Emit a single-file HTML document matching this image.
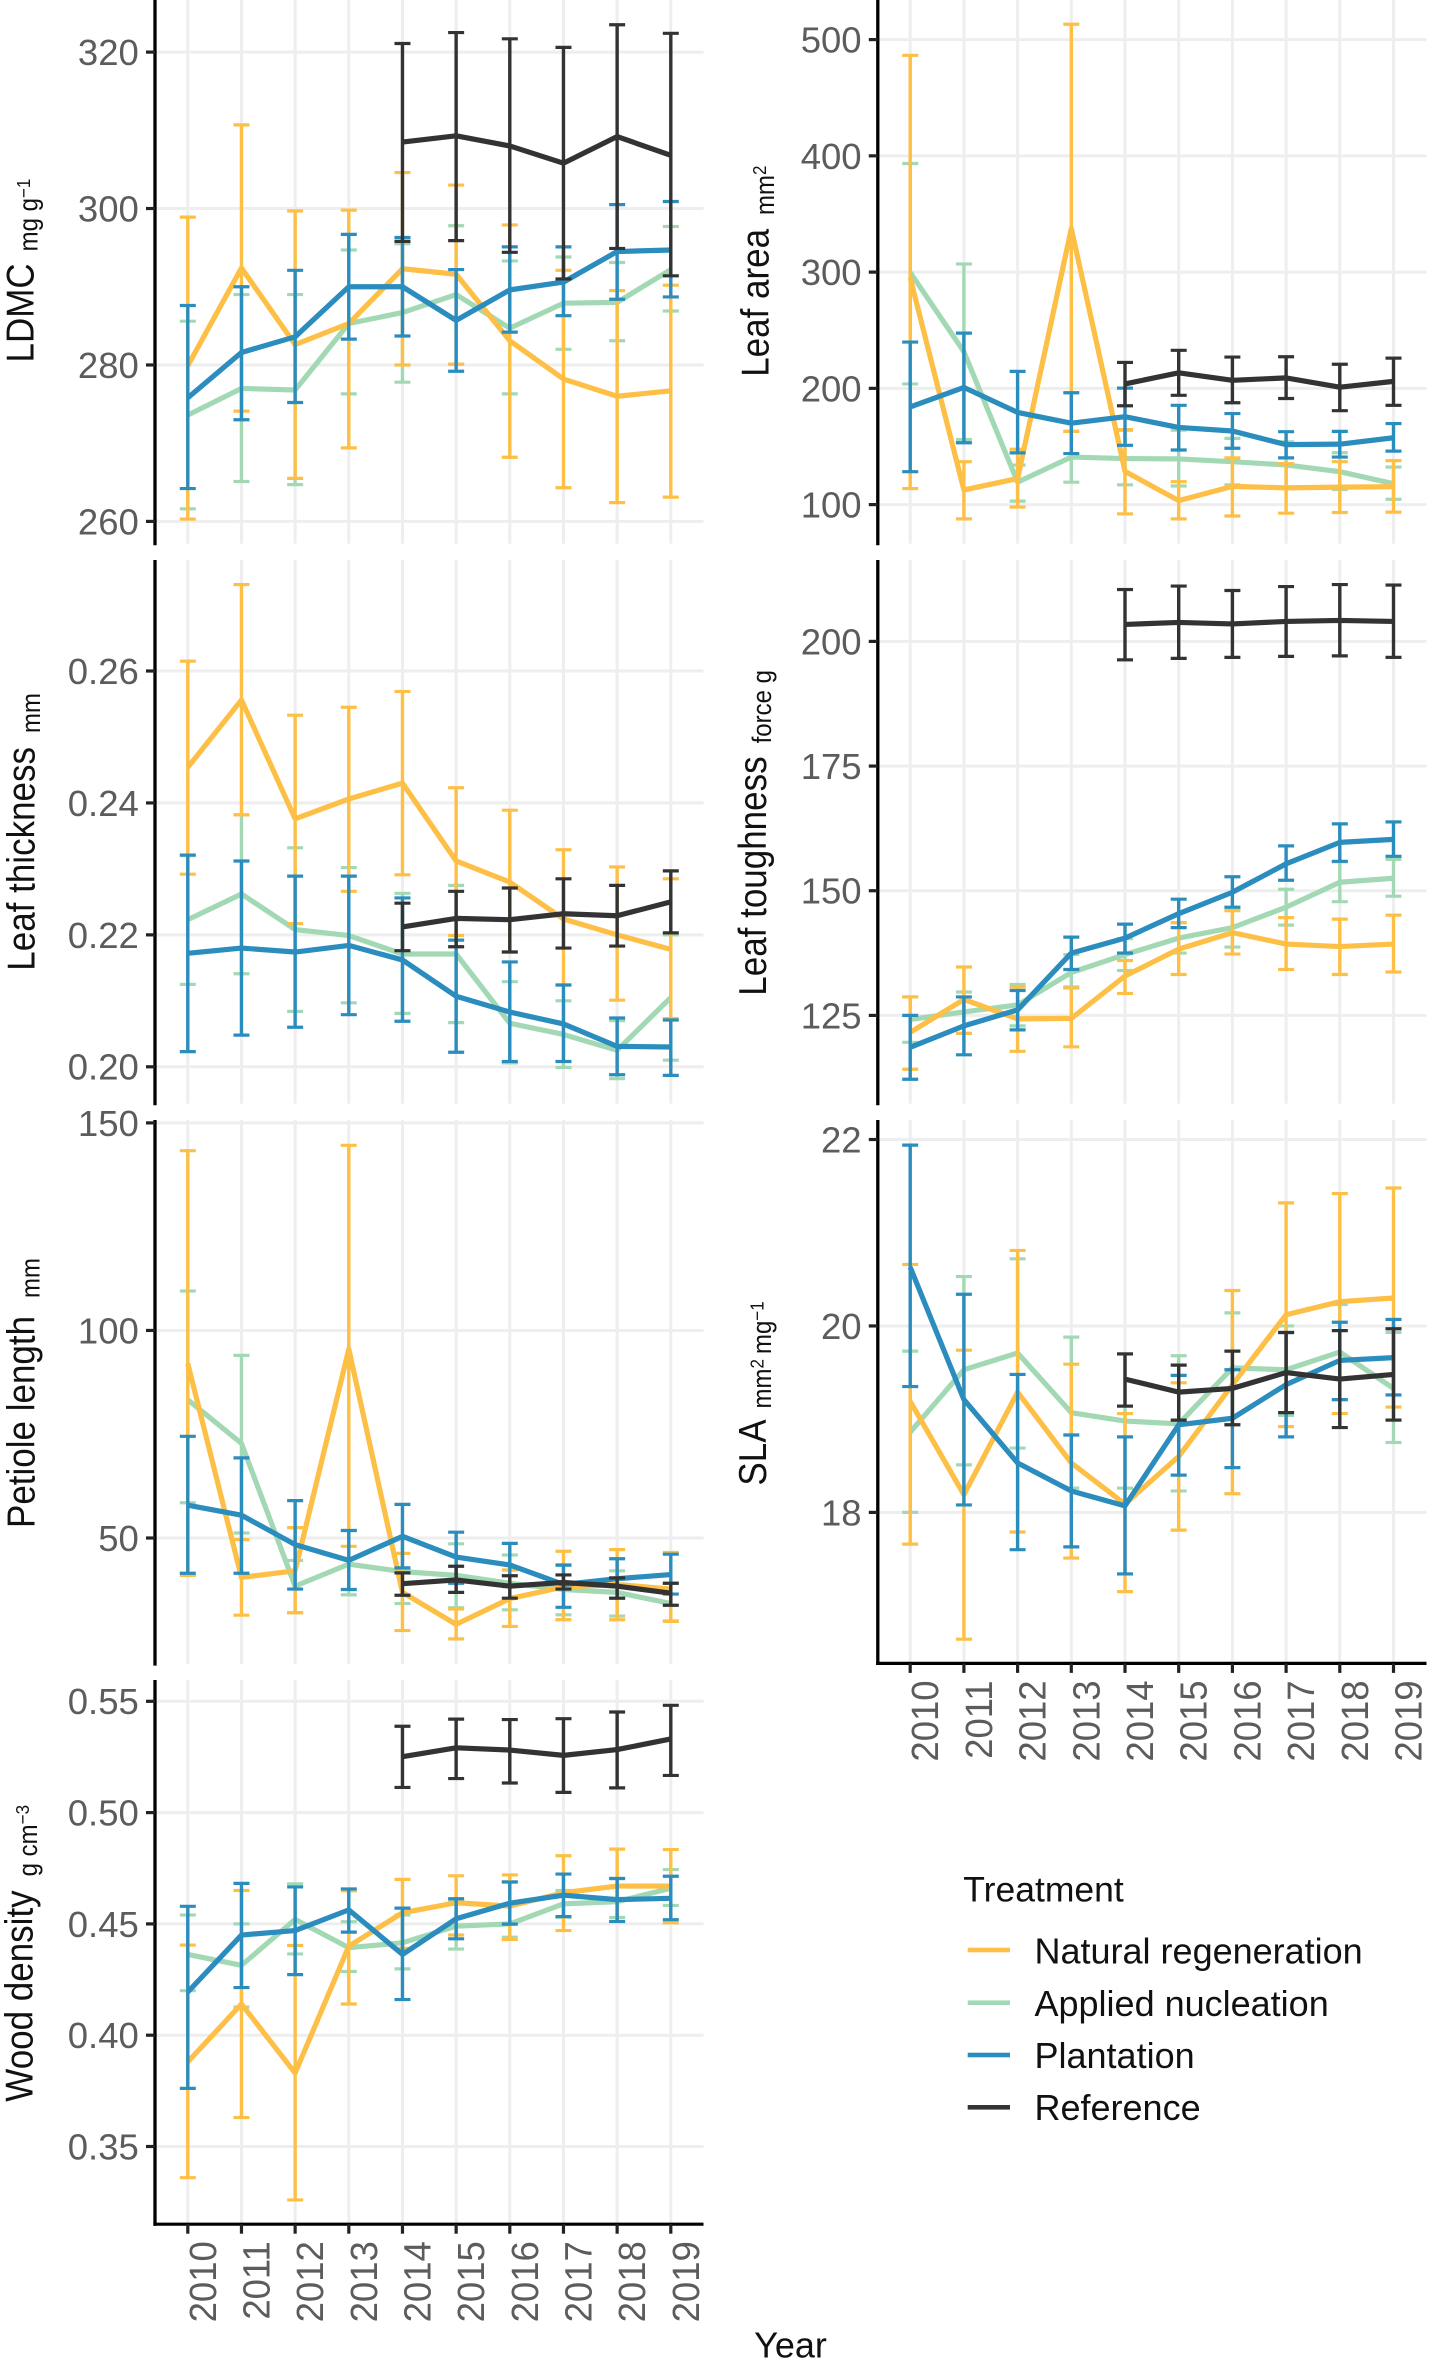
<!DOCTYPE html>
<html lang="en">
<head>
<meta charset="utf-8">
<title>Leaf and wood traits by treatment, 2010-2019</title>
<style>
html,body{margin:0;padding:0;background:#fff}
svg{display:block;font-family:"Liberation Sans",Arial,sans-serif}
</style>
</head>
<body>
<svg id="chart" xmlns="http://www.w3.org/2000/svg" width="1437" height="2376" viewBox="0 0 1437 2376">
<rect width="1437" height="2376" fill="#ffffff"/>
<g id="panels"></g>
<g fill="#111111" font-size="35">
<text transform="translate(33.3,362.5) rotate(-90) scale(1,1.1)">LDMC<tspan font-size="24" dx="12" dy="4">mg g</tspan><tspan font-size="17" dy="-7">−1</tspan></text>
<text transform="translate(768.3,376.8) rotate(-90) scale(1,1.1)">Leaf area<tspan font-size="24" dx="14" dy="5">mm</tspan><tspan font-size="17" dy="-7">2</tspan></text>
<text transform="translate(34.6,970.7) rotate(-90) scale(1,1.1)">Leaf thickness<tspan font-size="24" dx="14" dy="5">mm</tspan></text>
<text transform="translate(766,995.7) rotate(-90) scale(1,1.1)">Leaf toughness<tspan font-size="24" dx="13" dy="4.5">force g</tspan></text>
<text transform="translate(34.6,1528) rotate(-90) scale(1,1.1)">Petiole length<tspan font-size="24" dx="18" dy="4.5">mm</tspan></text>
<text transform="translate(766,1485.6) rotate(-90) scale(1,1.1)">SLA<tspan font-size="24" dx="11" dy="4.5">mm</tspan><tspan font-size="17" dy="-7">2</tspan><tspan font-size="24" dx="5" dy="7">mg</tspan><tspan font-size="17" dy="-7">−1</tspan></text>
<text transform="translate(32.4,2101.7) rotate(-90) scale(1,1.1)">Wood density<tspan font-size="24" dx="14" dy="4">g cm</tspan><tspan font-size="17" dy="-7">−3</tspan></text>
</g>
<text x="790.5" y="2357.3" font-size="36" fill="#111111" text-anchor="middle">Year</text>
<g fill="#111111" font-size="36">
<text x="963.3" y="1901.7" font-size="35.5">Treatment</text>
<g>
<rect x="967.7" y="1947.7" width="42.3" height="4.6" fill="#FDBF45"/>
<text x="1034.5" y="1963.3">Natural regeneration</text>
</g>
<g>
<rect x="967.7" y="2000.4" width="42.3" height="4.6" fill="#A2D9B4"/>
<text x="1034.5" y="2016">Applied nucleation</text>
</g>
<g>
<rect x="967.7" y="2052.7" width="42.3" height="4.6" fill="#2B8CBE"/>
<text x="1034.5" y="2068">Plantation</text>
</g>
<g>
<rect x="967.7" y="2105" width="42.3" height="4.6" fill="#333333"/>
<text x="1034.5" y="2120">Reference</text>
</g>
</g>
</svg>
<script>
const years = [2010,2011,2012,2013,2014,2015,2016,2017,2018,2019];
const referenceYears = [2014,2015,2016,2017,2018,2019];

// LDMC
const ldmcTicks = [320,300,280,260];
const ldmcTickLabels = ['320','300','280','260'];
const ldmcNaturalMean = [279.9,292.4,282.6,285.3,292.3,291.6,283.1,278.2,276.0,276.7];
const ldmcNaturalUpper = [298.9,310.7,299.7,299.8,304.6,303.0,297.9,292.1,289.5,290.2];
const ldmcNaturalLower = [260.3,274.1,265.5,269.4,280.0,280.1,268.2,264.3,262.4,263.1];
const ldmcAppliedMean = [273.6,277.0,276.8,285.3,286.7,289.0,284.7,287.9,288.0,292.2];
const ldmcAppliedUpper = [285.6,289.0,289.0,294.7,295.5,297.8,293.3,293.8,293.1,297.7];
const ldmcAppliedLower = [261.6,265.1,264.7,276.3,277.8,280.1,276.3,282.0,283.1,286.9];
const ldmcPlantationMean = [275.8,281.6,283.6,290.0,290.0,285.7,289.6,290.6,294.5,294.7];
const ldmcPlantationUpper = [287.6,290.0,292.1,296.7,296.3,292.2,295.1,295.1,300.5,300.9];
const ldmcPlantationLower = [264.2,273.0,275.2,283.3,283.7,279.2,284.2,286.3,288.4,288.7];
const ldmcReferenceMean = [308.5,309.3,308.0,305.8,309.2,306.8];
const ldmcReferenceUpper = [321.1,322.5,321.7,320.6,323.5,322.4];
const ldmcReferenceLower = [295.8,295.9,294.4,291.0,294.9,291.4];

// Leaf area
const areaTicks = [500,400,300,200,100];
const areaTickLabels = ['500','400','300','200','100'];
const areaNaturalMean = [295,112.6,122.4,337.5,128.6,103.4,115.7,114.4,115,115.4];
const areaNaturalUpper = [486.5,136.9,147.6,513.2,164.5,119.7,140.2,135.3,136.9,137.8];
const areaNaturalLower = [113.8,87.7,97.9,163,92,87.7,90.2,92.6,93.2,93.5];
const areaAppliedMean = [299.7,231.5,119.3,140.9,139.6,139.3,136.9,134.1,128.3,118];
const areaAppliedUpper = [393.4,307,134,163,164,164,157,154,144.6,132.3];
const areaAppliedLower = [203.8,156,103,119.3,117,116,117,114,113,104.6];
const areaPlantationMean = [184,200.8,179.3,170,175.6,166.4,163.3,151.6,152,157.5];
const areaPlantationUpper = [239.8,247.5,214.6,196.2,200.2,185.4,178.3,162.7,163,169.7];
const areaPlantationLower = [128.3,153.2,144.5,143.9,151,147,148.5,140.2,140.9,146];
const areaReferenceMean = [203.8,213.4,206.9,209,201,206];
const areaReferenceUpper = [222.3,232.7,226.9,227.2,220.7,226];
const areaReferenceLower = [185,194,187.6,191.3,180.8,185.4];

// Leaf thickness
const thickTicks = [0.26,0.24,0.22,0.20];
const thickTickLabels = ['0.26','0.24','0.22','0.20'];
const thickNaturalMean = [0.2454,0.2556,0.2376,0.2406,0.2430,0.2312,0.2280,0.2224,0.2200,0.2178];
const thickNaturalUpper = [0.2615,0.2731,0.2533,0.2545,0.2569,0.2423,0.2389,0.2329,0.2303,0.2285];
const thickNaturalLower = [0.2292,0.2382,0.2217,0.2266,0.2291,0.2199,0.2174,0.2124,0.2101,0.2073];
const thickAppliedMean = [0.2223,0.2262,0.2208,0.2199,0.2171,0.2171,0.2066,0.2049,0.2025,0.2105];
const thickAppliedUpper = [0.2320,0.2382,0.2332,0.2302,0.2263,0.2275,0.2129,0.2100,0.2070,0.2200];
const thickAppliedLower = [0.2125,0.2141,0.2084,0.2097,0.2081,0.2067,0.2006,0.1999,0.1982,0.2010];
const thickPlantationMean = [0.2172,0.2180,0.2174,0.2184,0.2162,0.2107,0.2083,0.2065,0.2031,0.2030];
const thickPlantationUpper = [0.2321,0.2312,0.2289,0.2289,0.2256,0.2192,0.2159,0.2124,0.2074,0.2071];
const thickPlantationLower = [0.2023,0.2048,0.2060,0.2079,0.2069,0.2022,0.2008,0.2008,0.1988,0.1987];
const thickReferenceMean = [0.2212,0.2225,0.2223,0.2232,0.2229,0.2250];
const thickReferenceUpper = [0.2248,0.2266,0.2271,0.2285,0.2275,0.2297];
const thickReferenceLower = [0.2176,0.2182,0.2174,0.2180,0.2183,0.2203];

// Leaf toughness
const toughTicks = [200,175,150,125];
const toughTickLabels = ['200','175','150','125'];
const toughNaturalMean = [121.6,128.2,124.3,124.4,132.9,138.3,141.6,139.3,138.8,139.3];
const toughNaturalUpper = [128.7,134.7,130.7,130.5,136,143.6,146,144.6,144.3,145.1];
const toughNaturalLower = [114.2,121.4,117.8,118.7,129.4,133.2,137.3,134.2,133.2,133.7];
const toughAppliedMean = [124.2,125.7,127.1,133.6,137.2,140.5,142.6,146.7,151.7,152.5];
const toughAppliedUpper = [128.7,129.7,131.2,137.2,140.4,143.6,146.5,150.3,155.8,156.3];
const toughAppliedLower = [119.6,121.4,122.9,130.7,134,137.5,138.7,143.1,147.8,148.9];
const toughPlantationMean = [118.6,122.9,126.1,137.5,140.5,145.4,149.7,155.4,159.7,160.3];
const toughPlantationUpper = [125,128.7,130,140.7,143.3,148.3,152.8,159,163.4,163.8];
const toughPlantationLower = [112.2,117.1,122.1,134.2,137.5,142.6,146.7,152.1,155.9,156.9];
const toughReferenceMean = [203.4,203.8,203.5,204,204.2,204];
const toughReferenceUpper = [210.4,211.1,210.2,211,211.4,211.3];
const toughReferenceLower = [196.3,196.6,196.8,197,197.1,196.8];

// Petiole length
const petioleTicks = [150,100,50];
const petioleTickLabels = ['150','100','50'];
const petioleNaturalMean = [92,40.5,42.1,95.5,36.9,29.2,35.4,38.2,38.8,37.7];
const petioleNaturalUpper = [143.3,49.6,52.5,144.6,46.3,32.9,42.3,46.8,47.2,46.5];
const petioleNaturalLower = [41,31.4,32,48,27.7,25.7,28.7,30.3,30.3,29.9];
const petioleAppliedMean = [83.3,72.8,38.4,43.7,41.9,41,39.1,37.6,36.9,34.2];
const petioleAppliedUpper = [109.5,94,44.6,51.8,50,48.6,45.9,43.4,42.1,39.1];
const petioleAppliedLower = [58.5,51.2,32,36.3,34.2,33.2,32.7,31.5,31.2,30];
const petiolePlantationMean = [57.9,55.5,48.4,44.6,50.4,45.4,43.5,38.8,40.2,41.2];
const petiolePlantationUpper = [74.5,69.3,59,51.8,58.1,51.4,48.7,43.5,45,46.1];
const petiolePlantationLower = [41.5,41.5,37.7,37.6,42.8,39.1,38.3,33.3,35.5,36.5];
const petioleReferenceMean = [39,39.9,38.4,39.3,38.4,36.7];
const petioleReferenceUpper = [41.6,43.2,40.9,41.1,40.4,39.1];
const petioleReferenceLower = [36.2,36.9,35.5,37.7,35.5,33.8];

// SLA
const slaTicks = [22,20,18];
const slaTickLabels = ['22','20','18'];
const slaNaturalMean = [19.19,18.19,19.29,18.53,18.09,18.6,19.37,20.12,20.26,20.3];
const slaNaturalUpper = [20.66,19.74,20.81,19.59,19.06,19.39,20.38,21.32,21.42,21.48];
const slaNaturalLower = [17.66,16.64,17.79,17.51,17.15,17.81,18.2,18.92,19.06,19.13];
const slaAppliedMean = [18.86,19.53,19.71,19.07,18.98,18.95,19.55,19.53,19.72,19.33];
const slaAppliedUpper = [19.73,20.53,20.72,19.88,19.7,19.68,20.14,20,20.23,19.93];
const slaAppliedLower = [18,18.51,18.69,18.26,18.26,18.23,18.94,19.04,19.21,18.75];
const slaPlantationMean = [20.63,19.21,18.53,18.23,18.07,18.94,19.01,19.37,19.63,19.66];
const slaPlantationUpper = [21.94,20.34,19.48,18.83,18.81,19.47,19.53,19.93,20.04,20.07];
const slaPlantationLower = [19.35,18.08,17.6,17.63,17.34,18.4,18.48,18.81,19.21,19.26];
const slaReferenceMean = [19.43,19.29,19.33,19.5,19.43,19.48];
const slaReferenceUpper = [19.7,19.58,19.73,19.93,19.95,19.97];
const slaReferenceLower = [19.14,18.99,18.94,19.07,18.91,18.99];

// Wood density
const woodTicks = [0.55,0.50,0.45,0.40,0.35];
const woodTickLabels = ['0.55','0.50','0.45','0.40','0.35'];
const woodNaturalMean = [0.388,0.414,0.383,0.440,0.455,0.4595,0.458,0.464,0.467,0.467];
const woodNaturalUpper = [0.4405,0.465,0.4403,0.4649,0.470,0.4716,0.472,0.4806,0.4836,0.4834];
const woodNaturalLower = [0.336,0.363,0.326,0.414,0.439,0.445,0.443,0.447,0.451,0.4505];
const woodAppliedMean = [0.4363,0.4314,0.452,0.4393,0.4415,0.449,0.450,0.459,0.460,0.466];
const woodAppliedUpper = [0.454,0.450,0.468,0.451,0.454,0.460,0.469,0.465,0.4704,0.4744];
const woodAppliedLower = [0.420,0.4126,0.4365,0.4286,0.4298,0.4387,0.444,0.453,0.4529,0.4583];
const woodPlantationMean = [0.4194,0.445,0.447,0.4563,0.4363,0.4523,0.4593,0.4629,0.4609,0.4615];
const woodPlantationUpper = [0.4579,0.4682,0.4666,0.4657,0.4571,0.4613,0.4688,0.4724,0.4704,0.4714];
const woodPlantationLower = [0.3761,0.4214,0.4272,0.4463,0.416,0.4433,0.4499,0.4533,0.4511,0.4519];
const woodReferenceMean = [0.5251,0.5291,0.5281,0.5257,0.5283,0.5331];
const woodReferenceUpper = [0.5388,0.542,0.5418,0.5422,0.5452,0.5482];
const woodReferenceLower = [0.5113,0.5153,0.5133,0.5091,0.5111,0.5167];

const SVGNS = 'http://www.w3.org/2000/svg';
const palette = {natural:'#FDBF45', applied:'#A2D9B4', plantation:'#2B8CBE', reference:'#333333'};
const leftCol = {axisX:155, firstX:187.8, lastX:670.8, rightX:703.5};
const rightCol = {axisX:877.8, firstX:910.2, lastX:1393.5, rightX:1426.5};

function seriesSet(natural, applied, plantation, reference) {
  return [
    {key:'applied', yrs:years, d:applied},
    {key:'natural', yrs:years, d:natural},
    {key:'plantation', yrs:years, d:plantation},
    {key:'reference', yrs:referenceYears, d:reference}
  ];
}

const panels = [
  {id:'ldmc', col:leftCol, top:0, bottom:543.6, a:[320,52.1], b:[260,521.4], ticks:ldmcTicks, labels:ldmcTickLabels, xAxis:false,
   series:seriesSet([ldmcNaturalMean,ldmcNaturalUpper,ldmcNaturalLower],[ldmcAppliedMean,ldmcAppliedUpper,ldmcAppliedLower],[ldmcPlantationMean,ldmcPlantationUpper,ldmcPlantationLower],[ldmcReferenceMean,ldmcReferenceUpper,ldmcReferenceLower])},
  {id:'leaf-area', col:rightCol, top:0, bottom:543.6, a:[500,39.6], b:[100,504.6], ticks:areaTicks, labels:areaTickLabels, xAxis:false,
   series:seriesSet([areaNaturalMean,areaNaturalUpper,areaNaturalLower],[areaAppliedMean,areaAppliedUpper,areaAppliedLower],[areaPlantationMean,areaPlantationUpper,areaPlantationLower],[areaReferenceMean,areaReferenceUpper,areaReferenceLower])},
  {id:'leaf-thickness', col:leftCol, top:560, bottom:1103.6, a:[0.26,671], b:[0.20,1066.8], ticks:thickTicks, labels:thickTickLabels, xAxis:false,
   series:seriesSet([thickNaturalMean,thickNaturalUpper,thickNaturalLower],[thickAppliedMean,thickAppliedUpper,thickAppliedLower],[thickPlantationMean,thickPlantationUpper,thickPlantationLower],[thickReferenceMean,thickReferenceUpper,thickReferenceLower])},
  {id:'leaf-toughness', col:rightCol, top:560, bottom:1103.6, a:[200,641.4], b:[125,1015.4], ticks:toughTicks, labels:toughTickLabels, xAxis:false,
   series:seriesSet([toughNaturalMean,toughNaturalUpper,toughNaturalLower],[toughAppliedMean,toughAppliedUpper,toughAppliedLower],[toughPlantationMean,toughPlantationUpper,toughPlantationLower],[toughReferenceMean,toughReferenceUpper,toughReferenceLower])},
  {id:'petiole-length', col:leftCol, top:1120, bottom:1664, a:[150,1122.9], b:[50,1538], ticks:petioleTicks, labels:petioleTickLabels, xAxis:false,
   series:seriesSet([petioleNaturalMean,petioleNaturalUpper,petioleNaturalLower],[petioleAppliedMean,petioleAppliedUpper,petioleAppliedLower],[petiolePlantationMean,petiolePlantationUpper,petiolePlantationLower],[petioleReferenceMean,petioleReferenceUpper,petioleReferenceLower])},
  {id:'sla', col:rightCol, top:1120, bottom:1663.4, a:[22,1139.5], b:[18,1512.4], ticks:slaTicks, labels:slaTickLabels, xAxis:true,
   series:seriesSet([slaNaturalMean,slaNaturalUpper,slaNaturalLower],[slaAppliedMean,slaAppliedUpper,slaAppliedLower],[slaPlantationMean,slaPlantationUpper,slaPlantationLower],[slaReferenceMean,slaReferenceUpper,slaReferenceLower])},
  {id:'wood-density', col:leftCol, top:1680, bottom:2224.2, a:[0.55,1701.3], b:[0.35,2146.5], ticks:woodTicks, labels:woodTickLabels, xAxis:true,
   series:seriesSet([woodNaturalMean,woodNaturalUpper,woodNaturalLower],[woodAppliedMean,woodAppliedUpper,woodAppliedLower],[woodPlantationMean,woodPlantationUpper,woodPlantationLower],[woodReferenceMean,woodReferenceUpper,woodReferenceLower])}
];

function seg(parent, x1, y1, x2, y2, color, w, name) {
  const el = document.createElementNS(SVGNS, 'line');
  
  
  el.setAttribute('x1', x1);
  el.setAttribute('y1', y1);
  el.setAttribute('x2', x2);
  el.setAttribute('y2', y2);
  el.setAttribute('stroke', color);
  el.setAttribute('stroke-width', w);
  parent.appendChild(el);
  return el;
}

function group(parent, name) {
  const el = document.createElementNS(SVGNS, 'g');
  
  
  parent.appendChild(el);
  return el;
}

function drawPanel(p, root) {
  const c = p.col;
  const step = (c.lastX - c.firstX) / (years.length - 1);
  const xScale = function (yr) { return c.firstX + (yr - years[0]) * step; };
  const yScale = function (v) { return p.a[1] + (v - p.a[0]) * (p.b[1] - p.a[1]) / (p.b[0] - p.a[0]); };
  const g = group(root, p.id + '-panel');

  const grid = group(g, p.id + '-gridlines');
  p.ticks.forEach(function (t) {
    seg(grid, c.axisX, yScale(t), c.rightX, yScale(t), '#EEEEEE', 3, p.id + '-h-gridline');
  });
  years.forEach(function (yr) {
    seg(grid, xScale(yr), p.top, xScale(yr), p.bottom, '#EEEEEE', 3, p.id + '-v-gridline');
  });

  p.series.forEach(function (s) {
    const sg = group(g, p.id + '-series-' + s.key);
    const color = palette[s.key];
    const mean = s.d[0], upper = s.d[1], lower = s.d[2];
    const line = document.createElementNS(SVGNS, 'polyline');
    
    
    line.setAttribute('points', mean.map(function (v, i) { return xScale(s.yrs[i]).toFixed(2) + ',' + yScale(v).toFixed(2); }).join(' '));
    line.setAttribute('fill', 'none');
    line.setAttribute('stroke', color);
    line.setAttribute('stroke-width', 5.2);
    line.setAttribute('stroke-linejoin', 'round');
    sg.appendChild(line);
    s.yrs.forEach(function (yr, i) {
      const x = xScale(yr);
      const eg = group(sg, p.id + '-errorbar-' + s.key);
      seg(eg, x, yScale(upper[i]), x, yScale(lower[i]), color, 3.4, p.id + '-errorbar-stem');
      seg(eg, x - 8, yScale(upper[i]), x + 8, yScale(upper[i]), color, 3.2, p.id + '-errorbar-cap-upper');
      seg(eg, x - 8, yScale(lower[i]), x + 8, yScale(lower[i]), color, 3.2, p.id + '-errorbar-cap-lower');
    });
  });

  const axis = group(g, p.id + '-y-axis');
  seg(axis, c.axisX, p.top, c.axisX, p.bottom + 1.6, '#000000', 3.3, p.id + '-y-axis-line');
  p.ticks.forEach(function (t, i) {
    seg(axis, c.axisX - 9, yScale(t), c.axisX, yScale(t), '#222222', 3.2, p.id + '-y-tick');
    const lab = document.createElementNS(SVGNS, 'text');
    
    
    lab.setAttribute('x', c.axisX - 16.2);
    lab.setAttribute('y', yScale(t) + 12.9);
    lab.setAttribute('text-anchor', 'end');
    lab.setAttribute('font-size', 36.5);
    lab.setAttribute('fill', '#5C5C5C');
    lab.textContent = p.labels[i];
    axis.appendChild(lab);
  });

  if (p.xAxis) {
    const xa = group(g, p.id + '-x-axis');
    seg(xa, c.axisX - 1.6, p.bottom, c.rightX, p.bottom, '#000000', 3.2, p.id + '-x-axis-line');
    years.forEach(function (yr) {
      const x = xScale(yr);
      seg(xa, x, p.bottom, x, p.bottom + 9.5, '#222222', 3.2, p.id + '-x-tick');
      const lab = document.createElementNS(SVGNS, 'text');
      
      
      lab.setAttribute('transform', 'translate(' + (x + 28) + ',' + (p.bottom + 17) + ') rotate(-90) scale(1,1.05)');
      lab.setAttribute('text-anchor', 'end');
      lab.setAttribute('font-size', 36.5);
      lab.setAttribute('fill', '#5C5C5C');
      lab.textContent = String(yr);
      xa.appendChild(lab);
    });
  }
}

const panelRoot = document.getElementById('panels');
panels.forEach(function (p) { drawPanel(p, panelRoot); });
</script>
</body>
</html>
